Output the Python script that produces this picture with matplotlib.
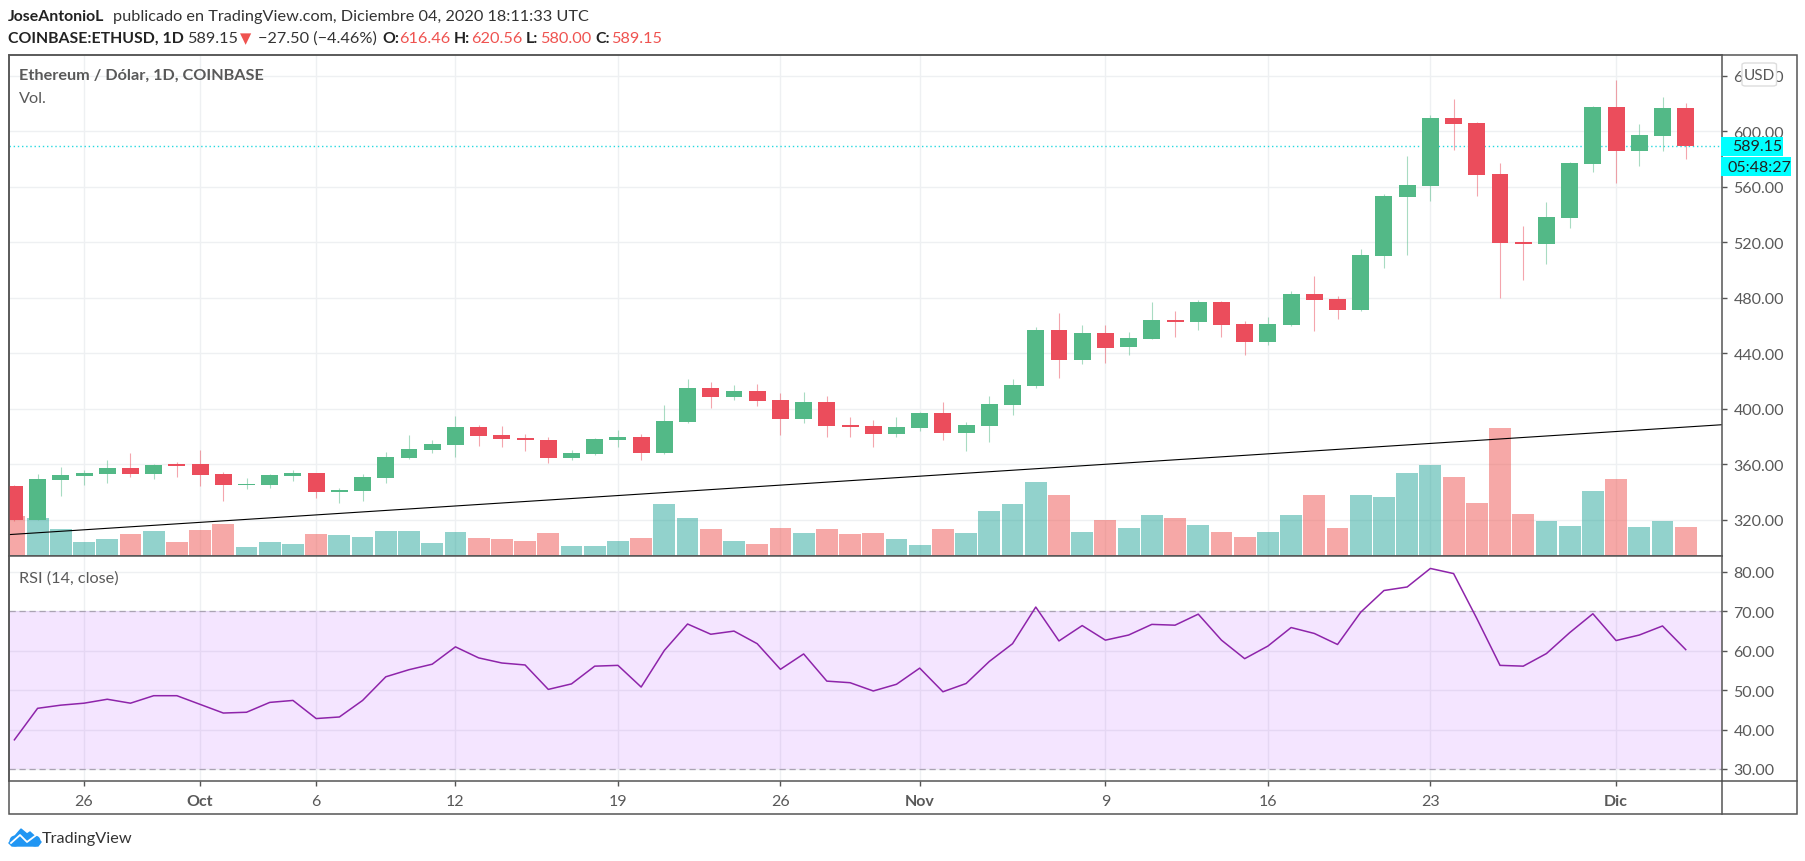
import matplotlib
matplotlib.use("Agg")
import matplotlib.pyplot as plt
from matplotlib.patches import Rectangle, FancyBboxPatch, Circle, Polygon

W, H = 1805, 862
plt.rcParams['font.family'] = ['Lato', 'DejaVu Sans']

# candles, one per day from Sep 23 to Dec 4
opens = [344.4, 319.9, 348.7, 351.6, 353.0, 357.3, 353.0, 360.2, 360.2, 353.0,
         345.1, 345.0, 351.6, 353.7, 340.0, 340.8, 350.1, 364.5, 370.3, 373.9,
         386.9, 381.1, 379.0, 377.5, 364.5, 367.4, 377.5, 379.7, 368.1, 390.5,
         415.0, 408.5, 412.8, 406.3, 392.6, 404.9, 388.3, 387.6, 381.8, 386.1,
         397.0, 382.5, 387.6, 402.7, 416.4, 456.8, 435.1, 454.6, 444.5, 450.3,
         464.0, 462.5, 476.9, 461.1, 448.1, 460.4, 482.8, 479.2, 471.2, 510.1,
         552.7, 560.6, 609.6, 606.0, 569.2, 520.5, 518.8, 537.5, 576.4, 617.5,
         585.8, 596.6, 616.46]
closes = [319.9, 349.4, 352.3, 353.7, 357.3, 353.0, 359.5, 358.8, 352.3, 345.0,
          345.8, 352.3, 353.7, 340.3, 341.5, 350.8, 365.3, 371.0, 374.6, 386.9,
          380.4, 378.2, 377.5, 364.5, 368.2, 378.2, 379.7, 368.1, 391.2, 415.0,
          408.5, 412.8, 405.6, 392.6, 404.9, 387.6, 386.9, 381.8, 386.9, 397.0,
          382.5, 388.3, 403.4, 417.1, 456.8, 435.1, 454.6, 443.8, 451.0, 464.0,
          462.5, 477.0, 460.4, 448.1, 461.0, 482.8, 478.4, 471.2, 510.9, 553.4,
          561.3, 609.6, 605.3, 568.5, 519.8, 519.0, 538.2, 577.2, 617.5, 585.8,
          597.3, 616.8, 589.15]
highs = [345.0, 353.0, 358.0, 356.0, 363.0, 368.0, 360.0, 361.7, 370.0, 354.5,
         350.0, 353.0, 356.0, 354.0, 343.0, 353.0, 368.9, 381.0, 377.5, 395.0,
         388.0, 387.6, 381.8, 379.7, 370.3, 379.0, 384.7, 381.5, 402.7, 421.5,
         419.3, 417.1, 417.8, 411.4, 412.0, 409.2, 394.1, 391.9, 394.1, 397.5,
         404.9, 390.5, 409.2, 421.5, 458.9, 469.0, 460.4, 460.4, 455.3, 476.9,
         470.5, 478.4, 478.0, 463.2, 466.0, 484.9, 495.7, 481.3, 515.2, 554.8,
         582.2, 611.8, 623.3, 606.7, 577.2, 531.7, 549.0, 577.9, 618.0, 637.0,
         605.3, 624.7, 620.56]
lows = [319.0, 319.5, 337.4, 345.0, 346.8, 351.0, 349.4, 351.0, 344.6, 333.8,
        342.2, 343.0, 348.2, 336.0, 332.4, 333.8, 346.5, 364.0, 368.0, 365.3,
        373.2, 372.5, 369.6, 361.0, 363.0, 366.7, 372.5, 363.0, 367.5, 390.0,
        400.6, 406.3, 402.0, 381.1, 389.8, 379.7, 379.7, 372.4, 379.7, 384.0,
        377.5, 369.6, 376.0, 395.5, 415.0, 422.2, 432.3, 433.0, 438.8, 450.0,
        451.7, 456.8, 451.7, 438.8, 446.0, 459.9, 456.1, 464.7, 470.8, 501.5,
        510.9, 549.8, 586.5, 553.4, 479.9, 492.8, 504.4, 530.3, 570.7, 562.7,
        575.0, 585.8, 580.0]
# no scale in the picture, relative bar heights only
volumes = [40, 38, 27, 14, 17, 22, 25, 14, 26, 32, 9, 14, 12, 22, 21, 19, 25, 25, 13, 24,
           18, 17, 15, 23, 10, 10, 15, 18, 52, 38, 27, 15, 12, 28, 23, 27, 22, 23, 17, 11,
           27, 23, 45, 52, 74, 61, 24, 36, 28, 41, 38, 31, 24, 19, 24, 41, 61, 28, 61, 59,
           83, 91, 79, 53, 128, 42, 35, 30, 65, 77, 29, 35, 29]
rsi = [37.4, 45.4, 46.2, 46.7, 47.7, 46.7, 48.6, 48.6, 46.4, 44.2,
       44.4, 46.9, 47.4, 42.8, 43.2, 47.4, 53.4, 55.2, 56.6, 61.0,
       58.2, 56.9, 56.4, 50.2, 51.6, 56.1, 56.3, 50.8, 60.1, 66.8,
       64.2, 65.0, 61.8, 55.3, 59.2, 52.3, 51.9, 49.8, 51.5, 55.6,
       49.6, 51.7, 57.3, 61.8, 71.1, 62.5, 66.4, 62.7, 64.0, 66.7,
       66.5, 69.3, 62.7, 58.0, 61.2, 65.9, 64.4, 61.6, 69.8, 75.3,
       76.2, 80.9, 79.6, 68.2, 56.3, 56.1, 59.3, 64.6, 69.4, 62.6,
       64.0, 66.3, 60.3]

tick_days = [3, 8, 13, 19, 26, 33, 39, 47, 54, 61, 69]
tick_labels = ['26', 'Oct', '6', '12', '19', '26', 'Nov', '9', '16', '23', 'Dic']
month_labels = ['Oct', 'Nov', 'Dic']
price_ticks = [320, 360, 400, 440, 480, 520, 560, 600, 640]
rsi_ticks = [30, 40, 50, 60, 70, 80]
trend_days = [-0.25, 73.55]
trend_prices = [309.3, 388.5]
last_price = 589.15

GREEN = '#53b987'
RED = '#eb4d5c'
VOL_GREEN = '#26a69a'
VOL_RED = '#ef5350'
GRID = '#eef0f2'
FRAME = '#555555'
TEXT = '#595959'
FS_AXIS = 11.5
FS_HEAD = 11.7


def px_rect(x0, y0, x1, y1):
    return [x0 / W, 1 - y1 / H, (x1 - x0) / W, (y1 - y0) / H]


def put(fig, x, y, s, **kw):
    kw.setdefault('va', 'center')
    kw.setdefault('ha', 'left')
    return fig.text(x / W, 1 - y / H, s, **kw)


fig = plt.figure(figsize=(W / 100, H / 100), dpi=100, facecolor='white')
ax = fig.add_axes(px_rect(8.5, 55.7, 1721.7, 557))
ax_rsi = fig.add_axes(px_rect(8.5, 557, 1721.7, 782), sharex=ax)

days = range(len(closes))
up = [c >= o for o, c in zip(opens, closes)]

# volume sits at the bottom of the price pane, on its own scale
vol_frac = [v / 501.3 for v in volumes]
ax.bar(days, vol_frac, width=0.94, transform=ax.get_xaxis_transform(),
       color=[VOL_GREEN if u else VOL_RED for u in up], alpha=0.5, zorder=1)

ax.plot(trend_days, trend_prices, color='black', lw=0.8, zorder=2)
ax.axhline(last_price, color='#26d9e0', lw=1.0, ls=(0, (1, 2)), zorder=2)

ax.vlines(days, lows, highs, colors=[GREEN if u else RED for u in up], lw=0.8, alpha=0.5, zorder=3)
ax.bar(days, [abs(c - o) for o, c in zip(opens, closes)], bottom=[min(o, c) for o, c in zip(opens, closes)],
       width=0.73, color=[GREEN if u else RED for u in up], zorder=4)

ax.set_ylim(293.9, 655.2)
ax.set_xlim(-0.254, 73.55)
ax.set_yticks(price_ticks)
ax.set_yticklabels(['%.2f' % p for p in price_ticks])
ax.grid(True, color=GRID, lw=1.0)
ax.set_axisbelow(True)
ax.tick_params(axis='x', length=0, labelbottom=False)

ax_rsi.axhspan(30, 70, color='#9800ff', alpha=0.1, lw=0, zorder=1.5)
ax_rsi.axhline(70, color='#aaa3b3', lw=0.9, ls=(0, (5, 3)), zorder=2)
ax_rsi.axhline(30, color='#aaa3b3', lw=0.9, ls=(0, (5, 3)), zorder=2)
ax_rsi.plot(days, rsi, color='#8e24aa', lw=1.1, zorder=3)
ax_rsi.set_ylim(26.95, 84.06)
ax_rsi.set_yticks(rsi_ticks)
ax_rsi.set_yticklabels(['%.2f' % r for r in rsi_ticks])
ax_rsi.set_xticks(tick_days)
ax_rsi.set_xticklabels(tick_labels)
ax_rsi.grid(True, color=GRID, lw=1.0)
ax_rsi.set_axisbelow(True)
ax_rsi.tick_params(axis='x', length=3.4, width=1.0, color=FRAME, labelcolor=TEXT, labelsize=FS_AXIS, pad=6)
for lbl in ax_rsi.get_xticklabels():
    if lbl.get_text() in month_labels:
        lbl.set_fontweight('bold')

for a in (ax, ax_rsi):
    a.yaxis.tick_right()
    a.tick_params(axis='y', length=3.4, width=1.0, color=FRAME, labelcolor=TEXT, labelsize=FS_AXIS, pad=5)
    for s in a.spines.values():
        s.set_color(FRAME)
        s.set_linewidth(1.1)

# outer frame around price scale and time scale
fig.add_artist(Rectangle((8.5 / W, 1 - 815 / H), (1796.7 - 8.5) / W, (815 - 55.7) / H, fill=False,
                         ec=FRAME, lw=1.1, transform=fig.transFigure))
fig.add_artist(plt.Line2D([1721.7 / W, 1721.7 / W], [1 - 815 / H, 1 - 782 / H], color=FRAME, lw=1.1))
fig.add_artist(plt.Line2D([1721.7 / W, 1796.7 / W], [1 - 782 / H, 1 - 782 / H], color=FRAME, lw=1.1))

# header
put(fig, 8, 17, 'JoseAntonioL', fontsize=11.4, fontweight='bold', color='#222222')
put(fig, 113, 17, 'publicado en TradingView.com, Diciembre 04, 2020 18:11:33 UTC', fontsize=FS_HEAD, color='#333333')
put(fig, 8, 39, 'COINBASE:ETHUSD, 1D', fontsize=11.4, fontweight='bold', color='#222222')
put(fig, 187, 39, '589.15', fontsize=FS_HEAD, color='#333333')
put(fig, 240, 39, '▼', fontsize=10.5, color='#ef5350')
put(fig, 258, 39, '−27.50 (−4.46%)', fontsize=FS_HEAD, color='#333333')
for x_key, key, x_val, val in [(382, 'O:', 399, '616.46'), (454, 'H:', 471, '620.56'),
                               (526, 'L:', 540, '580.00'), (595, 'C:', 611, '589.15')]:
    put(fig, x_key, 39, key, fontsize=11.4, fontweight='bold', color='#222222')
    put(fig, x_val, 39, val, fontsize=FS_HEAD, color='#ef5350')

# pane legends
put(fig, 19, 76, 'Ethereum / Dólar, 1D, COINBASE', fontsize=11.7, fontweight='bold', color=TEXT, zorder=5)
put(fig, 19, 98.7, 'Vol.', fontsize=11.7, color=TEXT, zorder=5)
put(fig, 19, 579, 'RSI (14, close)', fontsize=11.7, color=TEXT, zorder=5)

# last price tags and USD button
fig.add_artist(Rectangle((1721 / W, 1 - 156.7 / H), 61.7 / W, 18.4 / H, fc='#00ffff', ec='none', zorder=4))
fig.add_artist(Rectangle((1721 / W, 1 - 176.7 / H), 69.7 / W, 18.4 / H, fc='#00ffff', ec='none', zorder=4))
put(fig, 1732, 147.4, '%.2f' % last_price, fontsize=FS_AXIS, color='#222222', zorder=5)
put(fig, 1727, 167.5, '05:48:27', fontsize=FS_AXIS, color='#222222', zorder=5)
fig.add_artist(FancyBboxPatch((1742 / W, 1 - 87 / H), 34.5 / W, 23 / H, boxstyle='round,pad=0,rounding_size=0.002',
                              fc='white', ec='#dddddd', lw=1.0, transform=fig.transFigure, zorder=4))
put(fig, 1759, 75.5, 'USD', fontsize=11, color=TEXT, ha='center', zorder=5)

# TradingView logo
logo = fig.add_axes(px_rect(8, 826, 42, 850))
logo.set_xlim(0, 34)
logo.set_ylim(24, 0)
logo.axis('off')
logo.add_patch(Polygon([(1, 18), (13, 4), (19, 9), (22, 7), (33, 17), (30, 21), (4, 21)], fc='#2196f3', ec='#2196f3', lw=1))
logo.add_patch(Circle((7, 16), 5.5, fc='#2196f3', ec='none'))
logo.add_patch(Circle((27, 16), 5.5, fc='#2196f3', ec='none'))
logo.plot([3, 12, 19, 31], [18, 10, 17, 8], color='white', lw=1.3)
put(fig, 42, 839, 'TradingView', fontsize=11.7, color='#333333')

fig.savefig('out.png', dpi=100)
